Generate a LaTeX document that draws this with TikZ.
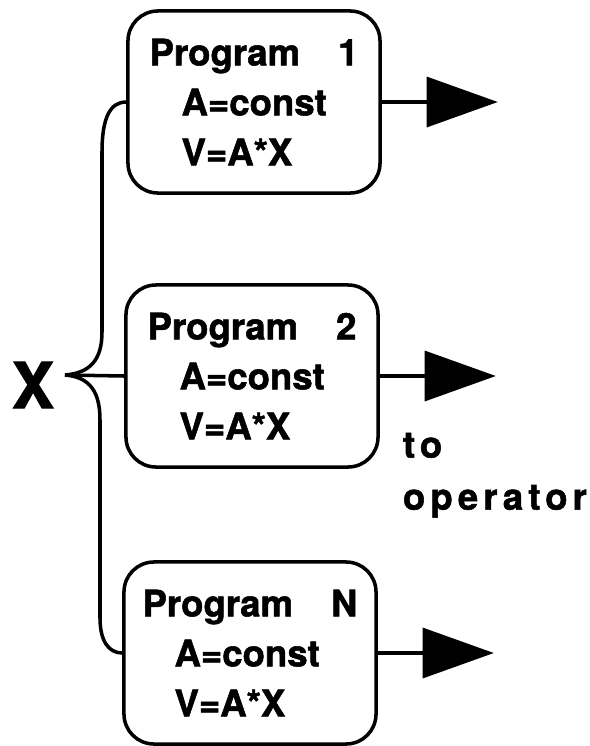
\documentclass[tikz,border=0pt]{standalone}
\usepackage{fontspec}
\setmainfont{TeX Gyre Heros}
\usetikzlibrary{arrows.meta,positioning}

\tikzset{
  progbox/.style={draw, line width=2.5pt, rounded corners=0.75cm,
    minimum width=6.3cm, minimum height=4.55cm, align=left,
    font=\fontsize{26}{35.5}\selectfont\bfseries\addfontfeature{FakeBold=1.5}},
  wire/.style={line width=2.5pt},
  outarrow/.style={line width=2.5pt, -{Triangle[length=1.78cm,width=1.25cm]}}
}

\begin{document}
\begin{tikzpicture}[x=0.025cm, y=-0.025cm]
        \useasboundingbox (0,0) rectangle (590,746);
        % the three programs
        \node[progbox] (p1) at (254,102) {Program\hspace{0.95cm}1\\\hspace{0.8cm}A=const\\\hspace{0.8cm}V=A*X};
        \node[progbox] (p2) at (252,376) {Program\hspace{0.95cm}2\\\hspace{0.8cm}A=const\\\hspace{0.8cm}V=A*X};
        \node[progbox] (p3) at (250,653) {Program\hspace{0.95cm}N\\\hspace{0.8cm}A=const\\\hspace{0.8cm}V=A*X};
        % input
        \node[font=\fontsize{45}{45}\selectfont\bfseries\addfontfeature{FakeBold=1.5}] (xin) at (33,385) {X};
        \coordinate (xtip) at (65,375);
        % brace from X to every program
        \draw[wire] (xtip) .. controls (90,373) and (102,360) .. (102,332)
          -- (102,152) .. controls (102,118) and (110,102) .. (p1.west);
        \draw[wire] (xtip) -- (p2.west);
        \draw[wire] (xtip) .. controls (90,377) and (100,392) .. (100,420)
          -- (100,618) .. controls (100,640) and (108,653) .. (p3.west);
        % outputs
        \coordinate (o1) at ([xshift=2.9cm]p1.east);
        \coordinate (o2) at ([xshift=2.9cm]p2.east);
        \coordinate (o3) at ([xshift=2.9cm]p3.east);
        \draw[outarrow] (p1.east) -- (o1);
        \draw[outarrow] (p2.east) -- (o2);
        \draw[outarrow] (p3.east) -- (o3);
        \node[anchor=north west, align=left,
          font=\fontsize{26}{37}\selectfont\bfseries\addfontfeature{LetterSpace=14,FakeBold=1.5}]
          (dest) at (398,428) {to\\operator};
\end{tikzpicture}
\end{document}
